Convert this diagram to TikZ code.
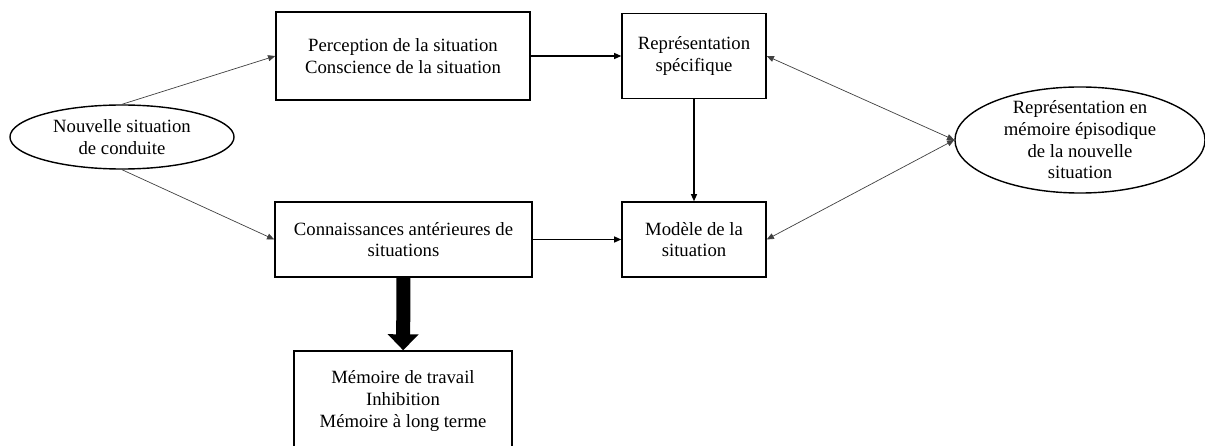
\documentclass[tikz,border=0pt]{standalone}
\usepackage{fontspec}
\setmainfont{Liberation Serif}
\usetikzlibrary{shapes.geometric, arrows.meta}

\begin{document}
\begin{tikzpicture}[x=0.025cm, y=-0.025cm,
		every node/.style={font=\fontsize{13.3}{15.4}\selectfont, align=center},
		box/.style={rectangle, draw, line width=1pt, inner sep=2pt},
		oval/.style={ellipse, draw, line width=1pt, inner sep=0pt},
		arr/.style={line width=1pt, -{Triangle[length=1.8mm, width=1.5mm]}},
		slim/.style={line width=0.5pt, draw=black!75, -{Triangle[length=1.8mm, width=1.5mm]}},
		thin/.style={line width=0.5pt, draw=black!75, {Triangle[length=1.8mm, width=1.5mm]}-{Triangle[length=1.8mm, width=1.5mm]}},
		big/.style={line width=0.35cm, -{Triangle[length=0.4cm, width=0.75cm]}}]
			\useasboundingbox (0,0) rectangle (1205,446);

			\node[oval, minimum width=5.6cm, minimum height=1.6cm] (nouvelle) at (122,137) {Nouvelle situation\\de conduite};
			\node[box, minimum width=6.35cm, minimum height=2.2cm] (perception) at (403,56) {Perception de la situation\\Conscience de la situation};
			\node[box, minimum width=6.425cm, minimum height=1.875cm] (connaissances) at (403.5,239.5) {Connaissances antérieures de\\situations};
			\node[box, minimum width=3.6cm, minimum height=2.125cm] (specifique) at (694,56) {Représentation\\spécifique};
			\node[box, minimum width=3.6cm, minimum height=1.875cm] (modele) at (694,239.5) {Modèle de la\\situation};
			\node[box, minimum width=5.45cm, minimum height=2.5cm] (memoire) at (403,401) {Mémoire de travail\\Inhibition\\Mémoire à long terme};
			\node[oval, minimum width=6.25cm, minimum height=2.65cm] (episodique) at (1080,140) {};
			\node (episodiquetxt) at (episodique) {Représentation en\\mémoire épisodique\\de la nouvelle\\situation};

			\draw[slim] (nouvelle.north) -- (perception.west);
			\draw[slim] (nouvelle.south) -- (connaissances.west);
			\draw[arr] (perception) -- (specifique);
			\draw[arr] (connaissances) -- (modele);
			\draw[arr] (specifique) -- (modele);
			\draw[thin] (specifique.east) -- (episodique.west);
			\draw[thin] (modele.east) -- (episodique.west);
			\draw[big] (connaissances) -- (memoire);
		\end{tikzpicture}
\end{document}
